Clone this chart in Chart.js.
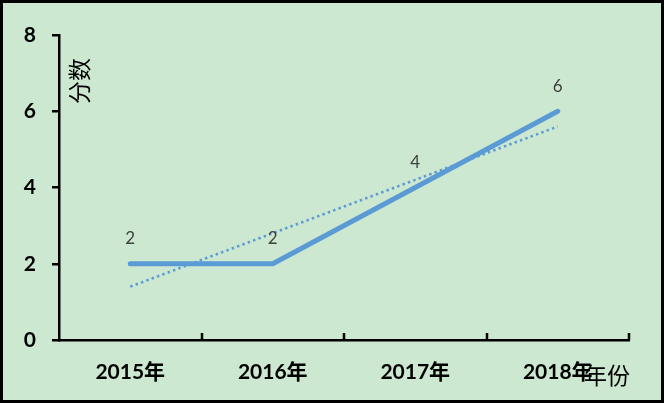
<!DOCTYPE html>
<html>
<head>
<meta charset="utf-8">
<script src="https://cdn.jsdelivr.net/npm/chart.js@4"></script>
<style>
    html, body { margin: 0; padding: 0; background: #cde8d0; }
    #wrap { width: 664px; height: 403px; }
</style>
</head>
<body>
<div id="wrap"><canvas id="chart" width="664" height="403"></canvas></div>
<script>
// chart data
const years = ['2015年', '2016年', '2017年', '2018年'];
const scores = [2, 2, 4, 6];
const trendScores = [1.4, 2.8, 4.2, 5.6]; // linear trendline from the original
const yTicks = [0, 2, 4, 6, 8];

const yTitle = '分数';
const xTitle = '年份';

const blue = '#5b9bd5';
const fontFamily = "Lato, 'Noto Sans CJK SC', sans-serif";

// background + frame, data labels, inner ticks on x axis, axis titles
const decor = {
    id: 'decor',
    beforeDraw(chart) {
        const { ctx, width, height } = chart;
        ctx.save();
        ctx.fillStyle = '#cde8d0';
        ctx.fillRect(0, 0, width, height);
        ctx.restore();
    },
    afterDraw(chart) {
        const { ctx, width, height, chartArea } = chart;
        const x = chart.scales.x;
        ctx.save();

        // x axis ticks pointing up, at category boundaries
        ctx.strokeStyle = '#000';
        ctx.lineWidth = 2.5;
        ctx.beginPath();
        for (let i = 1; i <= years.length; i++) {
            const px = Math.round((x.getPixelForValue(i - 1) + x.getPixelForValue(i)) / 2);
            const bx = i === years.length ? chartArea.right : px;
            ctx.moveTo(bx, chartArea.bottom);
            ctx.lineTo(bx, chartArea.bottom - 7);
        }
        ctx.stroke();

        // data labels
        ctx.fillStyle = '#404040';
        ctx.font = '17px ' + fontFamily;
        ctx.textAlign = 'center';
        ctx.textBaseline = 'middle';
        chart.getDatasetMeta(0).data.forEach((pt, i) => {
            ctx.fillText(String(scores[i]), pt.x, pt.y - 25);
        });

        // axis titles
        ctx.fillStyle = '#000';
        ctx.font = '23px ' + fontFamily;
        ctx.save();
        ctx.translate(chartArea.left + 22, chartArea.top + 46);
        ctx.rotate(-Math.PI / 2);
        ctx.fillText(yTitle, 0, 0);
        ctx.restore();
        ctx.fillText(xTitle, chartArea.right - 22, chartArea.bottom + 37);

        // outer frame
        ctx.strokeStyle = '#000';
        ctx.lineWidth = 3;
        ctx.strokeRect(1.5, 1.5, width - 3, height - 3);
        ctx.restore();
    }
};

new Chart(document.getElementById('chart'), {
    type: 'line',
    data: {
        labels: years,
        datasets: [
            {
                label: 'score',
                data: scores,
                borderColor: blue,
                borderWidth: 5,
                borderCapStyle: 'round',
                borderJoinStyle: 'round',
                pointRadius: 0,
                tension: 0,
            },
            {
                label: 'trend',
                data: trendScores,
                borderColor: blue,
                borderWidth: 2.5,
                borderDash: [2.5, 3.2],
                pointRadius: 0,
                tension: 0,
            },
        ]
    },
    options: {
        responsive: false,
        animation: false,
        layout: { padding: { left: 0, right: 35, top: 35, bottom: 0 } },
        scales: {
            x: {
                offset: true,
                grid: { display: false, drawTicks: false, offset: true },
                border: { display: true, color: '#000', width: 2.5 },
                ticks: {
                    color: '#000',
                    padding: 20,
                    font: { family: fontFamily, size: 21, weight: 'bold' },
                },
                afterFit: (scale) => { scale.height = 63; },
            },
            y: {
                min: 0,
                max: 8,
                afterBuildTicks: (scale) => { scale.ticks = yTicks.map(v => ({ value: v })); },
                grid: { drawOnChartArea: false, drawTicks: true, tickLength: 7, color: '#000', lineWidth: 2.5 },
                border: { display: true, color: '#000', width: 2.5 },
                ticks: {
                    color: '#000',
                    padding: 16,
                    font: { family: fontFamily, size: 21, weight: 'bold' },
                },
                afterFit: (scale) => { scale.width = 59; },
            },
        },
        plugins: {
            legend: { display: false },
            tooltip: { enabled: false },
        },
    },
    plugins: [decor],
});
</script>
</body>
</html>
